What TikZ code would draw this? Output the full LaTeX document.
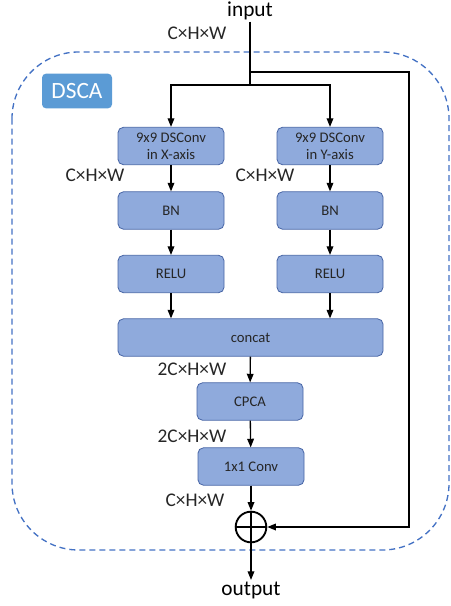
\documentclass[tikz,border=0pt]{standalone}
\usepackage{fontspec}
\setmainfont{Carlito}
\usetikzlibrary{arrows.meta,positioning}
\definecolor{boxfill}{RGB}{143,170,220}
\definecolor{boxline}{RGB}{70,100,165}
\definecolor{dashblue}{RGB}{68,114,196}
\definecolor{tagblue}{RGB}{91,155,213}
\newcommand{\dimsize}{\fontsize{14.5}{15}\selectfont}

\begin{document}
\begin{tikzpicture}[x=0.75pt,y=-0.75pt,
    block/.style={draw=boxline, fill=boxfill, rounded corners=4pt, line width=0.6pt,
        minimum width=79.5pt, minimum height=28pt, inner sep=0pt, align=center,
        font=\fontsize{11}{12.5}\selectfont, text=black!85},
    flow/.style={-{Triangle[length=6.5pt,width=5pt]}, line width=1pt},
    dimtext/.style={font=\dimsize, inner sep=0pt, text=black!85}]
    %\draw[help lines] (0,0) grid (450,606);
    \useasboundingbox (0,0) rectangle (450,606);
    % dashed frame of the module
    \draw[dashblue, line width=1pt, dash pattern=on 4.5pt off 3pt, rounded corners=50pt]
        (12,52) rectangle (449,550);
    \node[fill=tagblue, rounded corners=3pt, minimum width=52.5pt, minimum height=26pt,
        inner sep=0pt, text=white, font=\fontsize{17.5}{18}\selectfont] (tag) at (77,91) {DSCA};

    \node[font=\fontsize{16}{16}\selectfont, inner sep=1pt] (input) at (250,11) {input};
    \node[dimtext] (dimin) at (197,33) {C×H×W};

    \node[block] (dsx) at (171,146) {9x9 DSConv\\in X-axis};
    \node[block] (dsy) at (330,146) {9x9 DSConv\\in Y-axis};
    \node[block] (bnx) at (171,210.5) {BN};
    \node[block] (bny) at (330,210.5) {BN};
    \node[block] (relux) at (171,274) {RELU};
    \node[block] (reluy) at (330,274) {RELU};
    \node[block, minimum width=198.75pt] (concat) at (250.5,337.5) {concat};
    \node[block] (cpca) at (250,401.5) {CPCA};
    \node[block] (conv) at (251,466.5) {1x1 Conv};
    \node[circle, draw, line width=1.4pt, minimum size=23pt, inner sep=0pt] (add) at (251,527) {};
    \draw[line width=1.4pt] (add.north) -- (add.south) (add.west) -- (add.east);
    \node[font=\fontsize{16}{16}\selectfont, inner sep=1pt] (output) at (251,590) {output};

    \node[dimtext] (dimx) at (95,175) {C×H×W};
    \node[dimtext] (dimy) at (265,175) {C×H×W};
    \node[dimtext] (dimcat) at (192,369.5) {2C×H×W};
    \node[dimtext] (dimcpca) at (192,436) {2C×H×W};
    \node[dimtext] (dimconv) at (195,500) {C×H×W};

    % input split and skip path
    \coordinate (split) at (250,72);
    \coordinate (fork) at (250,85);
    \coordinate (skip) at (409,527);
    \draw[line width=1pt] (input) -- (fork);
    \draw[flow] (fork) -| (dsx);
    \draw[flow] (fork) -| (dsy);
    \draw[flow] (split) -| (skip) -- (add);

    \foreach \top/\low in {dsx/bnx, bnx/relux, dsy/bny, bny/reluy, concat/cpca, cpca/conv, conv/add, add/output}
        \draw[flow] (\top) -- (\low);
    \draw[flow] (relux) -- (relux |- concat.north);
    \draw[flow] (reluy) -- (reluy |- concat.north);
\end{tikzpicture}
\end{document}
